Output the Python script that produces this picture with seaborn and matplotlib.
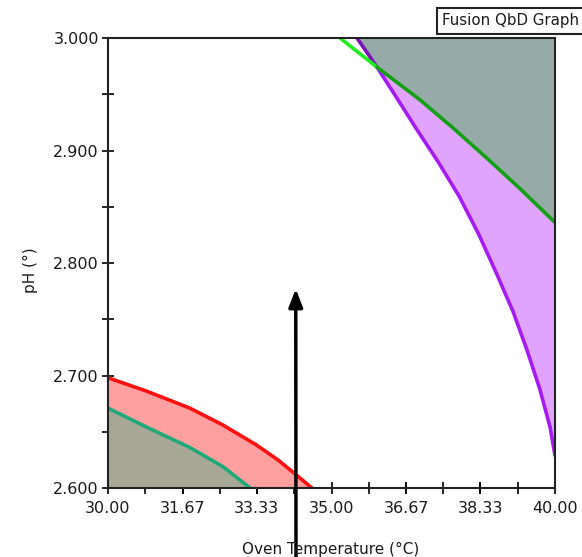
import matplotlib
matplotlib.use("Agg")
import matplotlib.pyplot as plt
import seaborn as sns
import numpy as np

sns.set_theme(style="white")
plt.rcParams['font.family'] = ['DejaVu Sans']

# Data
red_x = [30.0, 30.87, 31.83, 32.57, 33.33, 33.80, 34.14, 34.56]
red_y = [2.698, 2.686, 2.671, 2.656, 2.638, 2.625, 2.614, 2.600]

teal_x = [30.0, 30.87, 31.83, 32.57, 33.18]
teal_y = [2.671, 2.654, 2.636, 2.619, 2.600]

green_x = [35.19, 36.02, 36.98, 37.72, 38.48, 39.22, 40.0]
green_y = [3.000, 2.974, 2.945, 2.920, 2.893, 2.866, 2.836]

purple_x = [35.57, 36.02, 36.44, 36.92, 37.40, 37.86, 38.30, 38.70, 39.06, 39.37, 39.66, 39.89, 40.0]
purple_y = [3.000, 2.974, 2.948, 2.918, 2.889, 2.859, 2.825, 2.790, 2.757, 2.723, 2.688, 2.654, 2.629]

x_ticks = [30.0, 31.67, 33.33, 35.0, 36.67, 38.33, 40.0]
x_labels = ["30.00", "31.67", "33.33", "35.00", "36.67", "38.33", "40.00"]
y_ticks = [2.6, 2.7, 2.8, 2.9, 3.0]
y_labels = ["2.600", "2.700", "2.800", "2.900", "3.000"]

arrow_x = 34.2
arrow_tip_y = 2.777

fig = plt.figure(figsize=(5.82, 5.57), dpi=100)
ax = fig.add_axes([108/582, 1-488/557, 447/582, 450/557])

LW = 2.6
# Lower-left regions
ax.fill_between(red_x, red_y, 2.6, color="#ffa0a0", lw=0, zorder=1)
ax.fill_between(teal_x, teal_y, 2.6, color="#a8a896", lw=0, zorder=2)
sns.lineplot(x=red_x, y=red_y, ax=ax, color="#ff1010", lw=LW, sort=False, zorder=3)
sns.lineplot(x=teal_x, y=teal_y, ax=ax, color="#1fa878", lw=LW, sort=False, zorder=3)

# Upper-right regions
ax.fill_betweenx(purple_y, purple_x, 40.0, color="#e0a4ff", lw=0, zorder=1)
gx = [purple_x[0], purple_x[1]] + green_x[2:] + [40.0]
gy = [purple_y[0], purple_y[1]] + green_y[2:] + [3.0]
ax.fill(gx, gy, color="#96aaa7", lw=0, zorder=2)
sns.lineplot(x=purple_x[:2], y=purple_y[:2], ax=ax, color="#7a10b8", lw=LW, sort=False, zorder=3)
sns.lineplot(x=purple_x[1:], y=purple_y[1:], ax=ax, color="#a41cf2", lw=LW, sort=False, zorder=3)
sns.lineplot(x=green_x[:2], y=green_y[:2], ax=ax, color="#22ee22", lw=LW, sort=False, zorder=4)
sns.lineplot(x=green_x[1:], y=green_y[1:], ax=ax, color="#14a014", lw=LW, sort=False, zorder=4)

ax.set_xlim(30, 40)
ax.set_ylim(2.6, 3.0)
ax.set_xticks(x_ticks)
ax.set_xticklabels(x_labels)
ax.set_yticks(y_ticks)
ax.set_yticklabels(y_labels)
ax.set_xticks(np.arange(30.0, 40.01, 10/12), minor=True)
ax.set_yticks(np.arange(2.6, 3.001, 0.05), minor=True)
ax.tick_params(axis='both', which='both', direction='inout', length=9, width=1.2,
               color='black', labelsize=11.5, labelcolor='#1a1a1a', pad=2,
               bottom=True, left=True)
ax.tick_params(axis='x', which='both', pad=5)
for s in ax.spines.values():
    s.set_color('#222222')
    s.set_linewidth(1.5)
    s.set_zorder(5)

fig.text(30/582, 1-270/557, "pH (°)", rotation=90, ha='center', va='center',
         fontsize=11, color='#1a1a1a')
fig.text(331/582, 1-549/557, "Oven Temperature (°C)", ha='center', va='center',
         fontsize=11, color='#1a1a1a')

# Arrow from bottom of figure up into the plot
ax.annotate("", xy=(arrow_x, arrow_tip_y), xycoords='data',
            xytext=(296/582, 0.0), textcoords='figure fraction',
            arrowprops=dict(arrowstyle='-|>,head_length=0.9,head_width=0.35',
                            color='black', lw=2.5, shrinkA=0, shrinkB=0),
            annotation_clip=False, zorder=6)

fig.text(442/582, 1-21/557, "Fusion QbD Graph", ha='left', va='center',
         fontsize=10.8, color='#1a1a1a',
         bbox=dict(boxstyle='square,pad=0.35', fc='white', ec='#222222', lw=1.5))

fig.savefig("out.png", dpi=100)
